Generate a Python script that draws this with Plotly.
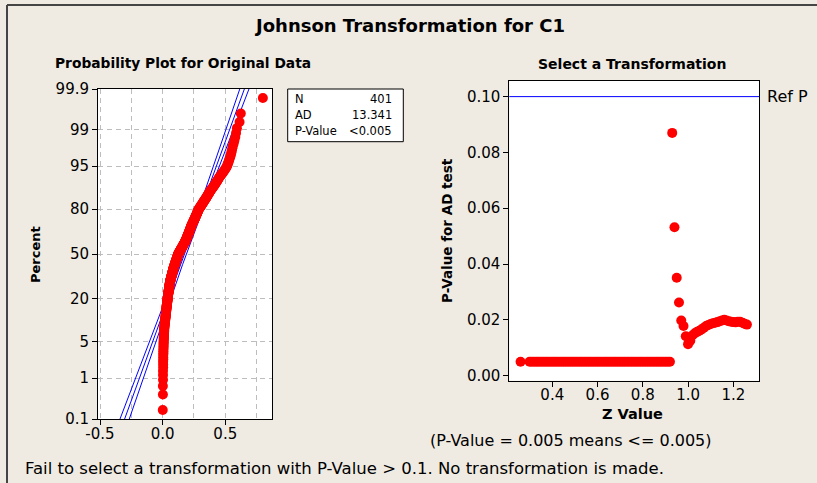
import plotly.graph_objects as go
from statistics import NormalDist, mean, stdev
import math

# ---------------- data ----------------
c1_sorted = [
    0.001, 0.002, 0.002,
    0.003, 0.003, 0.003, 0.004, 0.004, 0.004, 0.005,
    0.005, 0.005, 0.006, 0.006, 0.006, 0.007, 0.007, 0.007, 0.008, 0.008,
    0.008, 0.009, 0.009, 0.009, 0.010, 0.010, 0.010, 0.011, 0.011, 0.012, 0.012, 0.012, 0.013,
    0.014, 0.014, 0.015, 0.016, 0.016, 0.017, 0.018, 0.018, 0.019, 0.020, 0.020, 0.021, 0.022, 0.022,
    0.023, 0.023, 0.024,
    0.025, 0.025, 0.026, 0.026, 0.027, 0.027, 0.028, 0.028, 0.029, 0.029, 0.030, 0.030, 0.031, 0.031,
    0.032, 0.032, 0.033, 0.033, 0.034, 0.034, 0.035, 0.035, 0.036, 0.036, 0.037, 0.037, 0.038, 0.038,
    0.039, 0.039, 0.040, 0.040, 0.040,
    0.041, 0.041, 0.042, 0.042, 0.043, 0.043, 0.044, 0.044, 0.045, 0.045, 0.046, 0.046, 0.047, 0.047,
    0.048, 0.048, 0.049, 0.049, 0.050, 0.050, 0.051, 0.051, 0.052, 0.052, 0.053, 0.053, 0.054, 0.054,
    0.055, 0.055, 0.056, 0.056, 0.057, 0.057, 0.058, 0.058, 0.058,
    0.059, 0.060, 0.060, 0.061, 0.062, 0.063, 0.063, 0.064, 0.065, 0.066, 0.066, 0.067, 0.068, 0.069,
    0.069, 0.070, 0.071, 0.072, 0.072, 0.073, 0.074, 0.075, 0.075, 0.076, 0.077, 0.078, 0.078, 0.079,
    0.080, 0.081, 0.081, 0.082, 0.083, 0.084, 0.084, 0.085, 0.085,
    0.086, 0.087, 0.088, 0.089, 0.090, 0.091, 0.092, 0.093, 0.093, 0.094, 0.095, 0.096, 0.097, 0.098,
    0.099, 0.100, 0.101, 0.102, 0.102, 0.103, 0.104, 0.105, 0.106, 0.107, 0.108, 0.109, 0.110, 0.111,
    0.111, 0.112, 0.113, 0.114, 0.115, 0.116, 0.117, 0.118, 0.119, 0.120, 0.120, 0.121, 0.122, 0.123,
    0.124, 0.125,
    0.126, 0.128, 0.129, 0.131, 0.132, 0.134, 0.135, 0.137, 0.138, 0.140, 0.141, 0.143, 0.144, 0.146,
    0.147, 0.149, 0.150, 0.152, 0.153, 0.155, 0.156, 0.158, 0.159, 0.161, 0.162, 0.164, 0.165, 0.167,
    0.168, 0.170, 0.171, 0.173, 0.174, 0.176, 0.177, 0.179, 0.180, 0.182, 0.183,
    0.184, 0.185, 0.186, 0.187, 0.189, 0.190, 0.191, 0.192, 0.193, 0.194, 0.195, 0.196, 0.198, 0.199,
    0.200, 0.201, 0.202, 0.203, 0.204, 0.205, 0.207, 0.208, 0.209, 0.210, 0.211, 0.212, 0.213, 0.214,
    0.216, 0.217, 0.218, 0.219, 0.220, 0.221, 0.222, 0.223, 0.225, 0.226, 0.227, 0.228, 0.229, 0.230,
    0.231, 0.232, 0.234, 0.235,
    0.237, 0.238, 0.240, 0.241, 0.243, 0.244, 0.246, 0.247, 0.249, 0.250, 0.252, 0.253, 0.255, 0.256,
    0.258, 0.259, 0.261, 0.262, 0.264, 0.265, 0.267, 0.268, 0.270, 0.271, 0.273, 0.274, 0.276, 0.277,
    0.279, 0.280, 0.282, 0.283, 0.285, 0.286, 0.288,
    0.291, 0.293, 0.296, 0.299, 0.301, 0.304, 0.306, 0.309, 0.312, 0.314, 0.317, 0.320, 0.322, 0.325,
    0.327, 0.330,
    0.333, 0.336, 0.339, 0.342, 0.345, 0.348, 0.350, 0.353, 0.356, 0.359, 0.362, 0.365, 0.368, 0.371,
    0.374, 0.377, 0.380,
    0.384, 0.388, 0.392, 0.396, 0.400, 0.405, 0.409, 0.413, 0.417, 0.421, 0.425, 0.429, 0.434, 0.438,
    0.442, 0.446, 0.450,
    0.456, 0.462, 0.468, 0.474, 0.480, 0.486, 0.492, 0.498, 0.504, 0.510, 0.515,
    0.519, 0.523, 0.527, 0.531, 0.535, 0.540, 0.544, 0.548, 0.552, 0.556, 0.560,
    0.567, 0.573, 0.580, 0.586, 0.593,
    0.614, 0.624, 0.800,
]

percent_ticks = [0.1, 1, 5, 20, 50, 80, 95, 99, 99.9]
percent_labels = ["0.1", "1", "5", "20", "50", "80", "95", "99", "99.9"]
x1_ticks = [-0.5, 0.0, 0.5]
x1_labels = ["-0.5", "0.0", "0.5"]
x1_minor_grid = [-0.25, 0.25, 0.75]

z_values = [
    0.26, 0.30, 0.31, 0.32, 0.33, 0.34, 0.35, 0.36, 0.37, 0.38, 0.39, 0.40, 0.41, 0.42, 0.43, 0.44,
    0.45, 0.46, 0.47, 0.48, 0.49, 0.50, 0.51, 0.52, 0.53, 0.54, 0.55, 0.56, 0.57, 0.58, 0.59, 0.60,
    0.61, 0.62, 0.63, 0.64, 0.65, 0.66, 0.67, 0.68, 0.69, 0.70, 0.71, 0.72, 0.73, 0.74, 0.75, 0.76,
    0.77, 0.78, 0.79, 0.80, 0.81, 0.82, 0.83, 0.84, 0.85, 0.86, 0.87, 0.88, 0.89, 0.90, 0.91, 0.92,
    0.93, 0.94, 0.95, 0.96, 0.97, 0.98, 0.99, 1.00, 1.01, 1.02, 1.03, 1.04, 1.05, 1.06, 1.07, 1.08,
    1.09, 1.10, 1.11, 1.12, 1.13, 1.14, 1.15, 1.16, 1.17, 1.18, 1.19, 1.20, 1.21, 1.22, 1.23, 1.24,
    1.25, 1.26,
]
p_values = [
    0.005, 0.005, 0.005, 0.005, 0.005, 0.005, 0.005, 0.005, 0.005, 0.005, 0.005, 0.005, 0.005, 0.005,
    0.005, 0.005, 0.005, 0.005, 0.005, 0.005, 0.005, 0.005, 0.005, 0.005, 0.005, 0.005, 0.005, 0.005,
    0.005, 0.005, 0.005, 0.005, 0.005, 0.005, 0.005, 0.005, 0.005, 0.005, 0.005, 0.005, 0.005, 0.005,
    0.005, 0.005, 0.005, 0.005, 0.005, 0.005, 0.005, 0.005, 0.005, 0.005, 0.005, 0.005, 0.005, 0.005,
    0.005, 0.005, 0.005, 0.005, 0.005, 0.005, 0.005, 0.005,
    0.0870, 0.0532, 0.0351, 0.0262, 0.0198, 0.0178, 0.0141, 0.0113, 0.0125, 0.0145, 0.0152, 0.0157,
    0.0161, 0.0166, 0.0172, 0.0178, 0.0182, 0.0185, 0.0188, 0.0190, 0.0192, 0.0195, 0.0198, 0.0200,
    0.0198, 0.0195, 0.0193, 0.0192, 0.0191, 0.0193, 0.0193, 0.0190, 0.0186, 0.0183,
]
z_ticks = [0.4, 0.6, 0.8, 1.0, 1.2]
p_ticks = [0.00, 0.02, 0.04, 0.06, 0.08, 0.10]
ref_p = 0.10

stats_labels = ["N", "AD", "P-Value"]
stats_values = ["401", "13.341", "<0.005"]

# ---------------- derived ----------------
nd = NormalDist()
n = len(c1_sorted)
prob_z = [nd.inv_cdf((i + 1 - 0.3) / (n + 0.4)) for i in range(n)]
mu = mean(c1_sorted)
sigma = stdev(c1_sorted)

zgrid = [-3.4 + 0.05 * k for k in range(137)]
fit_x = [mu + z * sigma for z in zgrid]
half = [1.959964 * sigma * math.sqrt((1 + z * z / 2) / n) for z in zgrid]
lo_x = [f - h for f, h in zip(fit_x, half)]
hi_x = [f + h for f, h in zip(fit_x, half)]

W, H = 817, 483
BG = "#EFEBE2"
RED = "#FF0000"
BLUE = "#0000FF"
TICKFONT = dict(family="DejaVu Sans", size=15, color="black")


def px(x):
    return x / W


def py(y):
    return 1 - y / H


fig = go.Figure()

for xs in (lo_x, fit_x, hi_x):
    fig.add_trace(go.Scatter(x=xs, y=zgrid, mode="lines",
                             line=dict(color=BLUE, width=1),
                             xaxis="x", yaxis="y", hoverinfo="skip"))

fig.add_trace(go.Scatter(x=c1_sorted, y=prob_z, mode="markers",
                         marker=dict(color=RED, size=10, line=dict(width=0)),
                         xaxis="x", yaxis="y"))

fig.add_trace(go.Scatter(x=z_values, y=p_values, mode="markers",
                         marker=dict(color=RED, size=10, line=dict(width=0)),
                         xaxis="x2", yaxis="y2"))

grid_common = dict(gridcolor="#BDBDBD", griddash="5px,4px", gridwidth=1)

fig.update_layout(
    width=W, height=H,
    margin=dict(l=0, r=0, t=0, b=0, pad=0, autoexpand=False),
    paper_bgcolor=BG,
    plot_bgcolor="white",
    showlegend=False,
    xaxis=dict(
        domain=[px(98), px(272)], range=[-0.516, 0.873],
        tickvals=x1_ticks, ticktext=x1_labels, ticks="outside", ticklen=5,
        tickcolor="black", tickfont=TICKFONT, ticklabelstandoff=-4,
        showline=True, linecolor="black", linewidth=1, mirror=True,
        showgrid=True, **grid_common, zeroline=False,
        minor=dict(tickvals=x1_minor_grid, showgrid=True, ticks="",
                   gridcolor="#BDBDBD", griddash="5px,4px", gridwidth=1),
        anchor="y", automargin=False,
    ),
    yaxis=dict(
        domain=[py(419), py(89)],
        range=[nd.inv_cdf(0.001), nd.inv_cdf(0.999)],
        tickvals=[nd.inv_cdf(p / 100) for p in percent_ticks], ticktext=percent_labels,
        ticks="outside", ticklen=5, tickcolor="black", tickfont=TICKFONT,
        showline=True, linecolor="black", linewidth=1, mirror=True,
        showgrid=True, **grid_common, zeroline=False,
        anchor="x", automargin=False,
    ),
    xaxis2=dict(
        domain=[px(509.3), px(759)], range=[0.2102, 1.3135],
        tickvals=z_ticks, tickformat=".1f", ticks="outside", ticklen=5,
        tickcolor="black", tickfont=TICKFONT, ticklabelstandoff=-5,
        showline=True, linecolor="black", linewidth=1, mirror=True,
        showgrid=False, zeroline=False, anchor="y2", automargin=False,
    ),
    yaxis2=dict(
        domain=[py(380.7), py(80.7)], range=[-0.0018, 0.1057],
        tickvals=p_ticks, tickformat=".2f", ticks="outside", ticklen=5,
        tickcolor="black", tickfont=TICKFONT,
        showline=True, linecolor="black", linewidth=1, mirror=True,
        showgrid=False, zeroline=False, anchor="x2", automargin=False,
    ),
)

# reference line
fig.add_shape(type="line", xref="x2 domain", yref="y2", x0=0, x1=1, y0=ref_p, y1=ref_p,
              line=dict(color=BLUE, width=1))

# outer frame (left and top edges; the rest runs off the picture)
fig.add_shape(type="line", xref="paper", yref="paper", x0=px(7), x1=px(7), y0=0, y1=py(5),
              line=dict(color="#454545", width=2))
fig.add_shape(type="line", xref="paper", yref="paper", x0=px(7), x1=1, y0=py(5), y1=py(5),
              line=dict(color="#454545", width=2))

# stats box
fig.add_shape(type="rect", xref="paper", yref="paper", x0=px(287.7), x1=px(403.3),
              y0=py(141.7), y1=py(89), line=dict(color="black", width=1), fillcolor="white")

ann = []
BOLD = "DejaVu Sans"
REG = "DejaVu Sans"


def A(text, x, y, size, family=REG, xa="center", ya="middle", angle=0, bold=False):
    t = f"<b>{text}</b>" if bold else text
    ann.append(dict(text=t, x=px(x), y=py(y), xref="paper", yref="paper", xanchor=xa, yanchor=ya,
                    showarrow=False, textangle=angle, font=dict(family=family, size=size, color="black")))


A("Johnson Transformation for C1", 409, 26, 18, BOLD, bold=True)
A("Probability Plot for Original Data", 182.5, 63, 13.8, BOLD, bold=True)
A("Select a Transformation", 632, 63.5, 14, BOLD, bold=True)
A("Percent", 35, 255, 13, BOLD, angle=-90, bold=True)
A("P-Value for AD test", 447, 231, 13.5, BOLD, angle=-90, bold=True)
A("Z Value", 632, 414, 14.5, BOLD, bold=True)
A("Ref P", 765, 97, 16, REG, xa="left")
A("(P-Value = 0.005 means <= 0.005)", 571, 440, 16, REG)
A("Fail to select a transformation with P-Value > 0.1. No transformation is made.", 22.5, 468, 16.5, REG,
  xa="left")

for k, (lab, val) in enumerate(zip(stats_labels, stats_values)):
    yy = 99 + k * 15.8
    A(lab, 293, yy, 11.5, REG, xa="left")
    A(val, 394, yy, 11.5, REG, xa="right")

fig.update_layout(annotations=ann)

fig.write_html("out.html", config={"displayModeBar": False},
               post_script="document.body.style.margin='0px';")
